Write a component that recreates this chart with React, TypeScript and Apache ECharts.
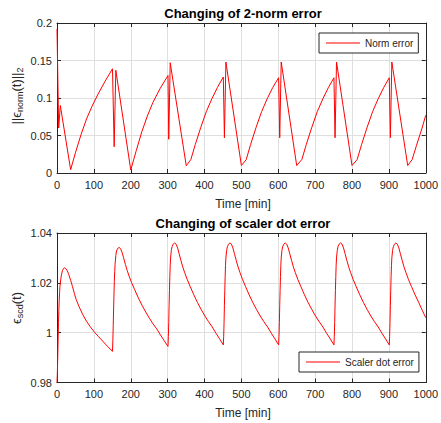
import React, { useEffect, useRef } from 'react';
import * as echarts from 'echarts';

// ---------- data ----------
const normTime = [
  0, 4.5, 9, 37, 50, 65, 80, 95, 110, 130, 150.5, 155, 159.5,
  200, 215, 230, 245, 260, 280, 301, 303, 307,
  350.5, 363, 375, 390, 405, 420, 435, 451, 454, 458,
  500, 513, 525, 540, 555, 570, 585, 601, 604, 608,
  650, 664, 676, 691, 706, 721, 736, 751, 754, 758,
  800, 814, 826, 841, 856, 871, 886, 901, 904, 908,
  951, 963, 975, 990, 1000,
];
const normValue = [
  0.192, 0.06, 0.09, 0.0044, 0.027, 0.051, 0.072, 0.089, 0.104, 0.122, 0.139, 0.035, 0.137,
  0.004, 0.03, 0.055, 0.076, 0.094, 0.113, 0.13, 0.045, 0.147,
  0.0097, 0.018, 0.038, 0.061, 0.082, 0.099, 0.114, 0.128, 0.047, 0.148,
  0.01, 0.0177, 0.038, 0.061, 0.082, 0.099, 0.114, 0.127, 0.047, 0.148,
  0.01, 0.018, 0.038, 0.061, 0.082, 0.099, 0.114, 0.127, 0.047, 0.148,
  0.01, 0.018, 0.038, 0.061, 0.082, 0.099, 0.114, 0.127, 0.047, 0.148,
  0.01, 0.0177, 0.037, 0.06, 0.077,
];

const scdTime = [
  0, 1, 2, 3, 4, 5, 6, 7, 8, 10, 12, 15, 18, 20,
  24, 28, 32, 37, 42, 47, 52, 60, 70, 80, 90, 101, 112, 124, 137, 150.5,
  151.5, 152.5, 153.5, 154.5, 155.5, 156.5, 157.5, 159.5, 161.5, 164.5, 168.5,
  172.5, 176.5, 180.5, 185.5, 190.5, 195.5, 202.5, 210.5, 220.5, 230.5, 240.5, 250.5, 260.5, 270.5, 280.5, 290.5, 301,
  302, 303, 304, 305, 306, 307, 308, 310, 312, 315, 319,
  323, 327, 331, 336, 341, 346, 353, 361, 371, 381, 391, 401, 411, 421, 431, 441, 451,
  452, 453, 454, 455, 456, 457, 458, 460, 462, 465, 469,
  473, 477, 481, 486, 491, 496, 503, 511, 521, 531, 541, 551, 561, 571, 581, 591, 601,
  602, 603, 604, 605, 606, 607, 608, 610, 612, 615, 619,
  623, 627, 631, 636, 641, 646, 653, 661, 671, 681, 691, 701, 711, 721, 731, 741, 751,
  752, 753, 754, 755, 756, 757, 758, 760, 762, 765, 769,
  773, 777, 781, 786, 791, 796, 803, 811, 821, 831, 841, 851, 861, 871, 881, 891, 901,
  902, 903, 904, 905, 906, 907, 908, 910, 912, 915, 919,
  923, 927, 931, 936, 941, 946, 953, 961, 971, 981, 991, 1000,
];
const scdValue = [
  0.98, 0.984, 0.99, 0.997, 1.004, 1.009, 1.013, 1.016, 1.0185, 1.0212, 1.0232, 1.025, 1.0258, 1.026,
  1.0257, 1.0248, 1.0233, 1.021, 1.0185, 1.0158, 1.0133, 1.0104, 1.0072, 1.0046, 1.0024, 1.0003, 0.9985, 0.9966, 0.9945, 0.9925,
  0.997, 1.003, 1.0095, 1.0155, 1.0205, 1.0245, 1.0275, 1.031, 1.0328, 1.0338, 1.0342,
  1.0337, 1.0322, 1.0301, 1.0274, 1.0249, 1.0227, 1.02, 1.0173, 1.014, 1.011, 1.0083, 1.0058, 1.0035, 1.0015, 0.9991, 0.9968, 0.9945,
  0.9985, 1.004, 1.011, 1.017, 1.0225, 1.027, 1.03, 1.033, 1.0345, 1.0355, 1.036,
  1.0355, 1.034, 1.0318, 1.029, 1.0264, 1.0242, 1.0214, 1.0186, 1.0152, 1.0121, 1.0093, 1.0067, 1.0044, 1.0023, 0.9998, 0.9975, 0.9951,
  0.9985, 1.004, 1.011, 1.017, 1.0225, 1.027, 1.03, 1.033, 1.0345, 1.0355, 1.036,
  1.0355, 1.034, 1.0318, 1.029, 1.0264, 1.0242, 1.0214, 1.0186, 1.0152, 1.0121, 1.0093, 1.0067, 1.0044, 1.0023, 0.9998, 0.9975, 0.9951,
  0.9985, 1.004, 1.011, 1.017, 1.0225, 1.027, 1.03, 1.033, 1.0345, 1.0355, 1.036,
  1.0355, 1.034, 1.0318, 1.029, 1.0264, 1.0242, 1.0214, 1.0186, 1.0152, 1.0121, 1.0093, 1.0067, 1.0044, 1.0023, 0.9998, 0.9975, 0.9951,
  0.9985, 1.004, 1.011, 1.017, 1.0225, 1.027, 1.03, 1.033, 1.0345, 1.0355, 1.036,
  1.0355, 1.034, 1.0318, 1.029, 1.0264, 1.0242, 1.0214, 1.0186, 1.0152, 1.0121, 1.0093, 1.0067, 1.0044, 1.0023, 0.9998, 0.9975, 0.9951,
  0.9985, 1.004, 1.011, 1.017, 1.0225, 1.027, 1.03, 1.033, 1.0345, 1.0355, 1.036,
  1.0355, 1.034, 1.0318, 1.029, 1.0264, 1.0242, 1.0214, 1.0186, 1.0152, 1.0121, 1.0088, 1.006,
];

const titles = ['Changing of 2-norm error', 'Changing of scaler dot error'];
const seriesNames = ['Norm error', 'Scaler dot error'];
const xLabel = 'Time [min]';

const FONT = '"Liberation Sans", Arial, Helvetica, sans-serif';
const INK = '#262626';
const GRID = '#dfdfdf';
const RED = '#ff0000';

function zip(a: number[], b: number[]) {
  return a.map((t, i) => [t, b[i]]);
}

function xAxisPair(gridIndex: number) {
  const base = {
    type: 'value' as const,
    gridIndex,
    min: 0,
    max: 1000,
    interval: 100,
    axisLine: { show: true, onZero: false, lineStyle: { color: INK, width: 1 } },
    axisTick: { show: true, inside: true, length: 4, lineStyle: { color: INK } },
  };
  return [
    {
      ...base,
      position: 'bottom',
      axisLabel: {
        color: INK,
        fontSize: 11,
        fontFamily: FONT,
        margin: 6,
        formatter: (v: number) => String(v),
      },
      splitLine: { show: true, lineStyle: { color: GRID, width: 1 } },
    },
    {
      ...base,
      position: 'top',
      axisLabel: { show: false },
      splitLine: { show: false },
    },
  ];
}

function yAxisPair(gridIndex: number, min: number, max: number, interval: number) {
  const base = {
    type: 'value' as const,
    gridIndex,
    min,
    max,
    interval,
    axisLine: { show: true, onZero: false, lineStyle: { color: INK, width: 1 } },
    axisTick: { show: true, inside: true, length: 4, lineStyle: { color: INK } },
  };
  return [
    {
      ...base,
      position: 'left',
      axisLabel: { color: INK, fontSize: 11, fontFamily: FONT, margin: 5 },
      splitLine: { show: true, lineStyle: { color: GRID, width: 1 } },
    },
    {
      ...base,
      position: 'right',
      axisLabel: { show: false },
      splitLine: { show: false },
    },
  ];
}

function legendOf(name: string, left: number, top: number) {
  return {
    data: [name],
    left,
    top,
    orient: 'horizontal',
    icon: 'rect',
    itemWidth: 34,
    itemHeight: 1,
    itemGap: 0,
    padding: [4, 5, 4, 7],
    borderColor: INK,
    borderWidth: 1,
    backgroundColor: '#ffffff',
    itemStyle: { color: RED, borderWidth: 0 },
    textStyle: { fontSize: 10, color: INK, fontFamily: FONT, lineHeight: 12 },
  };
}

export default function App() {
  const ref = useRef<HTMLDivElement>(null);

  useEffect(() => {
    if (!ref.current) return;
    const chart = echarts.init(ref.current, null, { renderer: 'svg' });

    const textBase = { fill: INK, fontFamily: FONT };
    const centered = {
      align: 'center',
      verticalAlign: 'middle',
      textAlign: 'center',
      textVerticalAlign: 'middle',
    };
    const rich = {
      m: { fontSize: 13, lineHeight: 16, fontFamily: FONT, fill: INK, verticalAlign: 'middle' },
      s: { fontSize: 9, lineHeight: 10, padding: [8, 0, 0, 0], fontFamily: FONT, fill: INK, verticalAlign: 'bottom' },
    };

    chart.setOption({
      animation: false,
      backgroundColor: '#ffffff',
      grid: [
        { left: 57, right: 12, top: 23, height: 150 },
        { left: 57, right: 12, top: 233, height: 149.5 },
      ],
      xAxis: [...xAxisPair(0), ...xAxisPair(1)],
      yAxis: [...yAxisPair(0, 0, 0.2, 0.05), ...yAxisPair(1, 0.98, 1.04, 0.02)],
      legend: [legendOf(seriesNames[0], 319, 33), legendOf(seriesNames[1], 299, 352)],
      series: [
        {
          name: seriesNames[0],
          type: 'line',
          xAxisIndex: 0,
          yAxisIndex: 0,
          data: zip(normTime, normValue),
          symbol: 'none',
          lineStyle: { color: RED, width: 1 },
          itemStyle: { color: RED },
        },
        {
          name: seriesNames[1],
          type: 'line',
          xAxisIndex: 2,
          yAxisIndex: 2,
          data: zip(scdTime, scdValue),
          symbol: 'none',
          lineStyle: { color: RED, width: 1 },
          itemStyle: { color: RED },
        },
      ],
      graphic: [
        {
          type: 'text',
          x: 243,
          y: 13,
          style: { ...textBase, ...centered, text: titles[0], fontSize: 13, fontWeight: 'bold', fill: '#000' },
        },
        {
          type: 'text',
          x: 243,
          y: 223,
          style: { ...textBase, ...centered, text: titles[1], fontSize: 13, fontWeight: 'bold', fill: '#000' },
        },
        {
          type: 'text',
          x: 243,
          y: 203.5,
          style: { ...textBase, ...centered, text: xLabel, fontSize: 12 },
        },
        {
          type: 'text',
          x: 243,
          y: 412.5,
          style: { ...textBase, ...centered, text: xLabel, fontSize: 12 },
        },
        {
          type: 'text',
          x: 16,
          y: 96,
          rotation: Math.PI / 2,
          style: { ...textBase, ...centered, text: '{m|||ϵ}{s|norm}{m|(t)||}{s|2}', rich },
        },
        {
          type: 'text',
          x: 16,
          y: 308,
          rotation: Math.PI / 2,
          style: { ...textBase, ...centered, text: '{m|ϵ}{s|scd}{m|(t)}', rich },
        },
      ],
    });

    return () => chart.dispose();
  }, []);

  return (
    <div
      ref={ref}
      style={{ position: 'absolute', left: 0, top: 0, width: 441, height: 423 }}
    />
  );
}
